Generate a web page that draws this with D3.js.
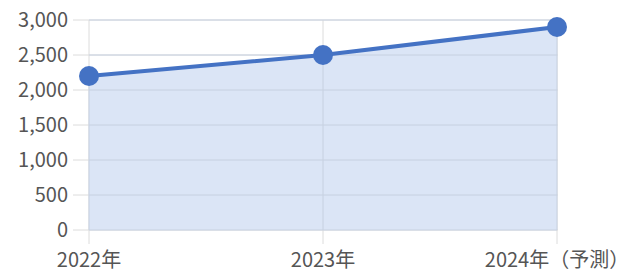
<!DOCTYPE html>
<html>
<head>
<meta charset="utf-8">
<script src="https://cdn.jsdelivr.net/npm/d3@7"></script>
<style>
  body { margin: 0; background: #fff; }
  text { font-family: "Noto Sans CJK JP", "Noto Sans", sans-serif; }
</style>
</head>
<body>
<svg id="chart" width="639" height="273"></svg>
<script>
// data
var categories = ['2022年', '2023年', '2024年（予測）'];
var values = [2200, 2500, 2900];
var yTicks = [0, 500, 1000, 1500, 2000, 2500, 3000];

var svg = d3.select('#chart');
var plotL = 89, plotR = 557, plotT = 20, plotB = 230;

var x = d3.scalePoint().domain(categories).range([plotL, plotR]);
var y = d3.scaleLinear().domain([0, 3000]).range([plotB, plotT]);

var grid = '#dcdcdc';

// horizontal grid
svg.append('g').selectAll('line').data(yTicks).join('line')
    .attr('x1', plotL - 16).attr('x2', plotR + 1)
    .attr('y1', function (d) { return y(d); }).attr('y2', function (d) { return y(d); })
    .attr('stroke', grid).attr('stroke-width', 1);

// vertical grid
svg.append('g').selectAll('line').data(categories).join('line')
    .attr('x1', function (d) { return x(d); }).attr('x2', function (d) { return x(d); })
    .attr('y1', plotT).attr('y2', plotB + 14)
    .attr('stroke', grid).attr('stroke-width', 1);

// area
var pts = categories.map(function (c, i) { return [x(c), y(values[i])]; });
svg.append('path')
    .attr('d', d3.area().x(function (d) { return d[0]; }).y0(y(0)).y1(function (d) { return d[1]; })(pts))
    .attr('fill', '#d5e1f4').attr('fill-opacity', 0.85);

// gridlines faintly over the area
svg.append('g').selectAll('line').data(yTicks).join('line')
    .attr('x1', plotL).attr('x2', plotR)
    .attr('y1', function (d) { return y(d); }).attr('y2', function (d) { return y(d); })
    .attr('stroke', '#c8d2e2').attr('stroke-width', 1);

svg.append('g').selectAll('line').data(categories).join('line')
    .attr('x1', function (d) { return x(d); }).attr('x2', function (d) { return x(d); })
    .attr('y1', function (d, i) { return y(values[i]); }).attr('y2', plotB)
    .attr('stroke', '#c8d2e2').attr('stroke-width', 1);

// line
svg.append('path')
    .attr('d', d3.line()(pts))
    .attr('fill', 'none').attr('stroke', '#4472c4').attr('stroke-width', 4);

// points
svg.append('g').selectAll('circle').data(pts).join('circle')
    .attr('cx', function (d) { return d[0]; }).attr('cy', function (d) { return d[1]; })
    .attr('r', 10).attr('fill', '#4472c4');

// y labels
svg.append('g').selectAll('text').data(yTicks).join('text')
    .attr('x', 68).attr('y', function (d) { return y(d); })
    .attr('dy', '0.35em').attr('text-anchor', 'end')
    .attr('font-size', 20).attr('fill', '#555')
    .text(function (d) { return d3.format(',')(d); });

// x labels
svg.append('g').selectAll('text').data(categories).join('text')
    .attr('x', function (d) { return x(d); }).attr('y', 267)
    .attr('text-anchor', 'middle')
    .attr('font-size', 20).attr('fill', '#555')
    .text(function (d) { return d; });
</script>
</body>
</html>
